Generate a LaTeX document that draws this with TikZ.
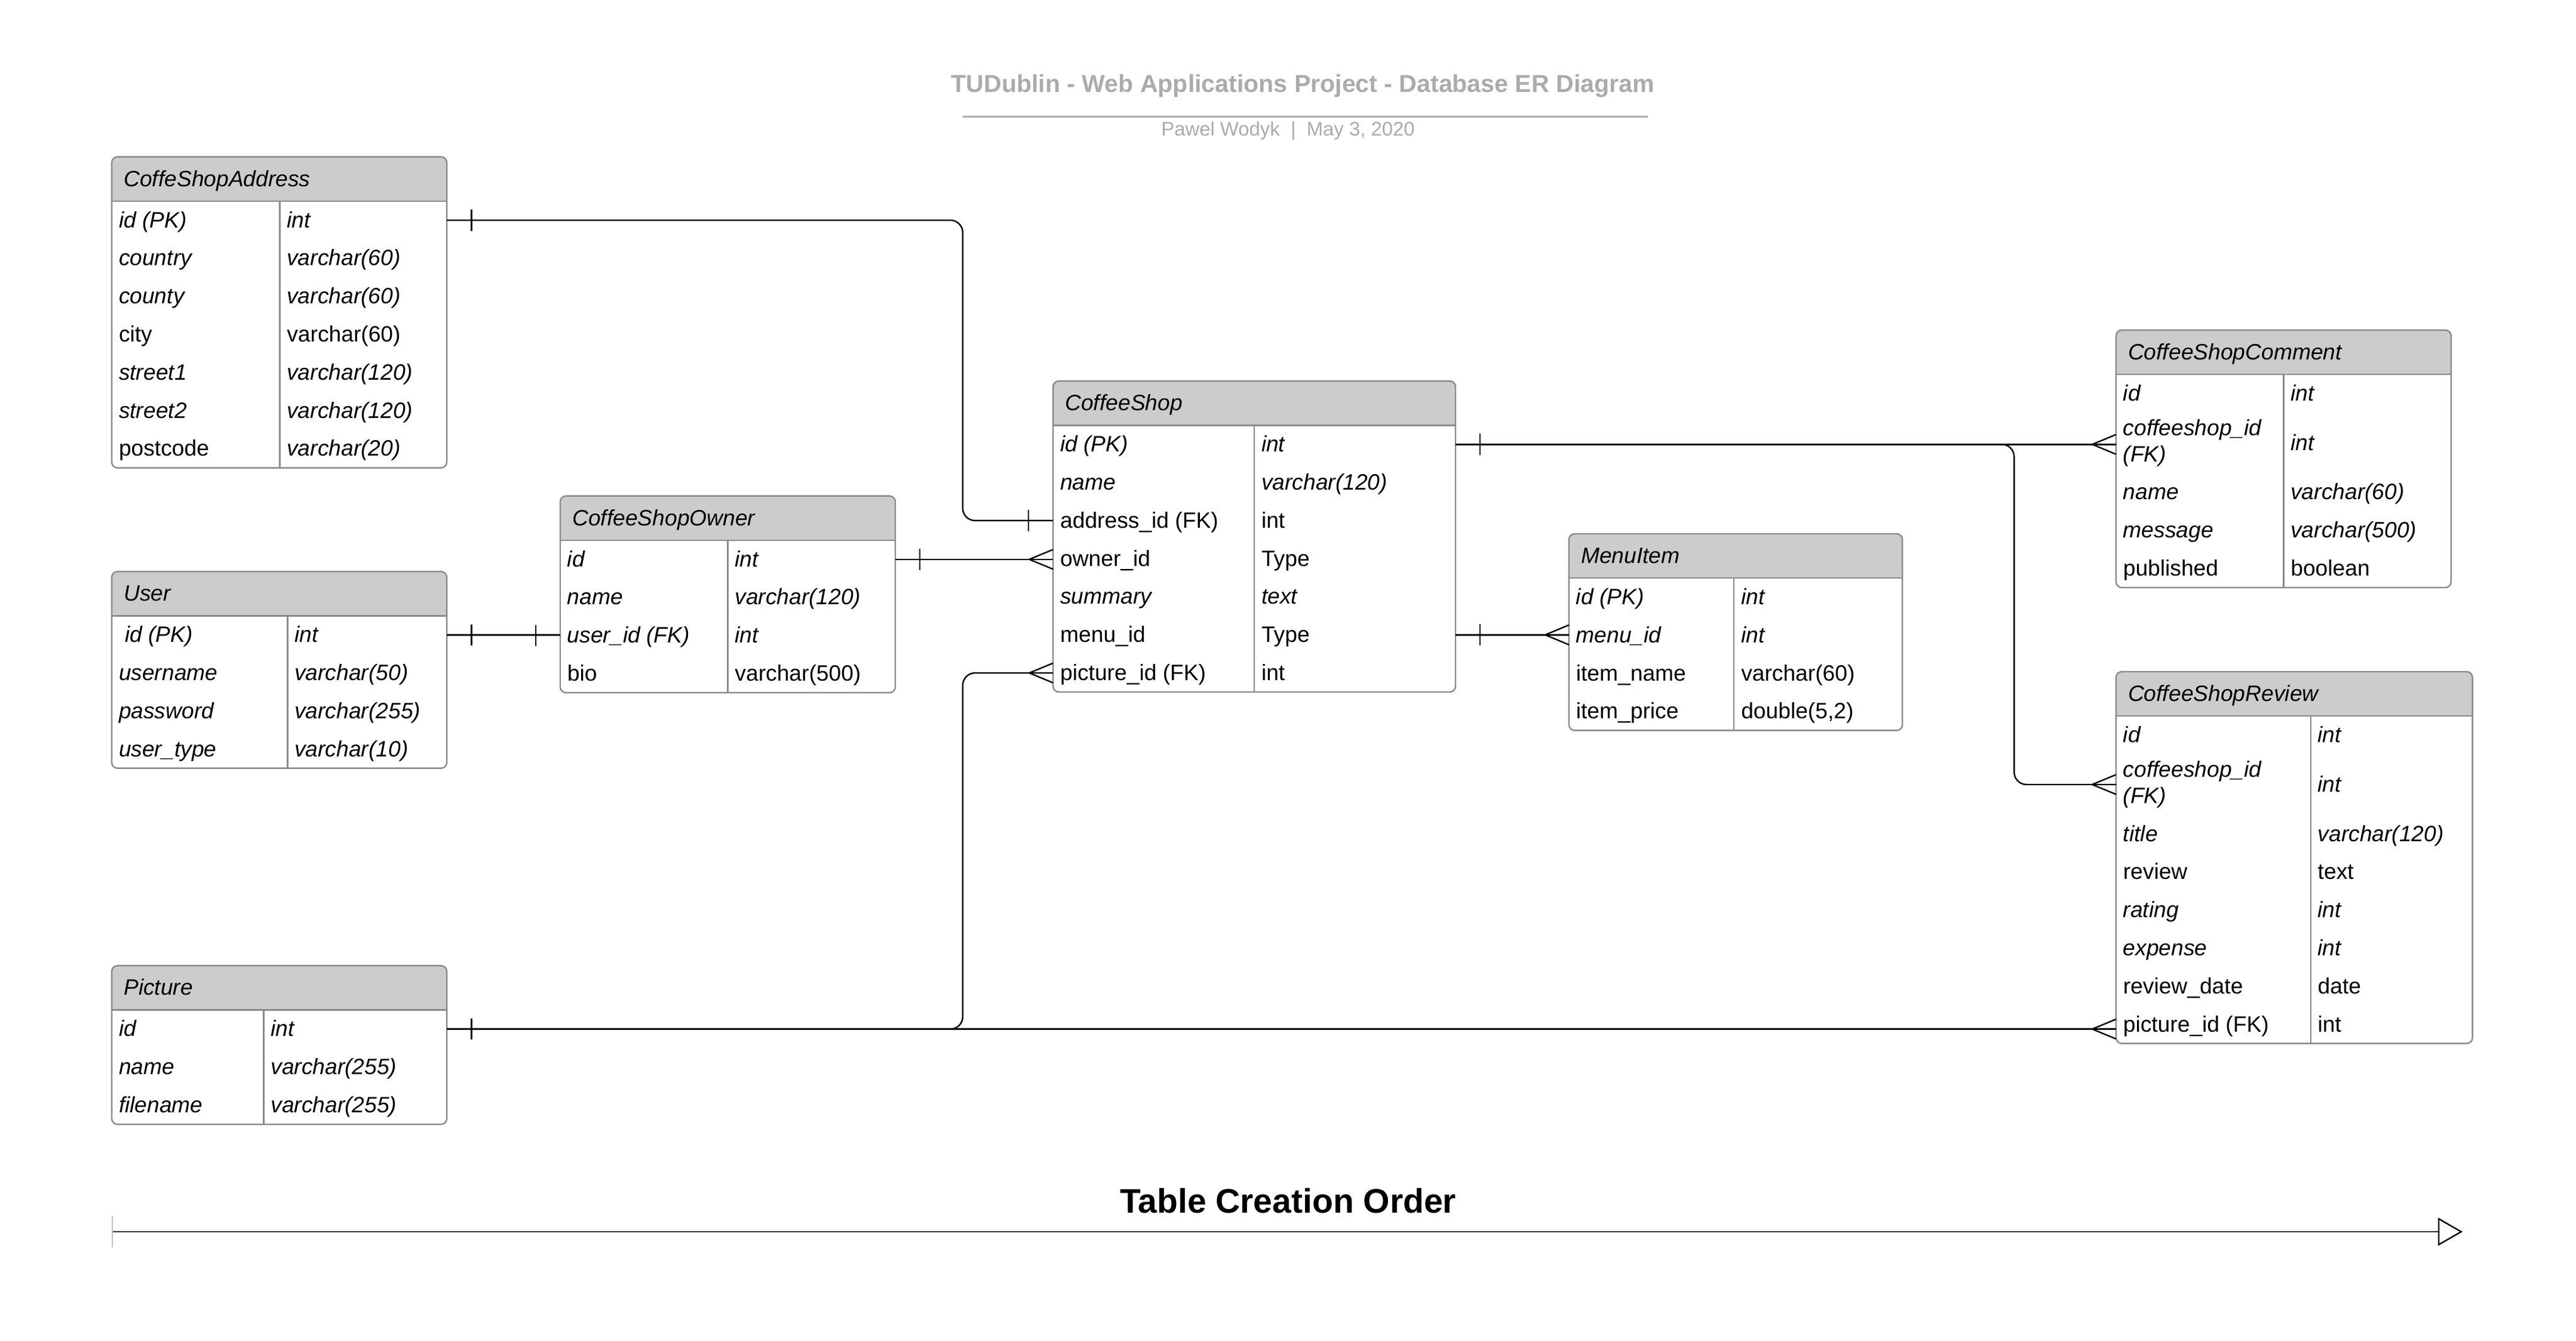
\documentclass[tikz,border=0pt]{standalone}
\usepackage{fontspec}
\setmainfont{Liberation Sans}
\usepackage{xcolor}
\usepackage{tikz}
\usetikzlibrary{arrows.meta}

\definecolor{hdrgray}{HTML}{CCCCCC}
\definecolor{framegray}{HTML}{8A8A8A}
\definecolor{titlegray}{HTML}{ABABAB}
\newcommand{\tabfont}{\fontsize{7.7}{9.2}\selectfont}

\begin{document}
\begin{tikzpicture}[
    x=0.02cm, y=-0.02cm,
    hdr/.style={rectangle, fill=hdrgray, rounded corners=2pt, minimum width=#1, minimum height=0.54cm, inner sep=0pt, outer sep=0pt, anchor=north west},
    row/.style={rectangle, minimum width=#1, minimum height=0.464cm, inner sep=0pt, outer sep=0pt, anchor=north west},
    cell/.style={anchor=west, inner sep=0pt, xshift=0.08cm, align=left},
    itl/.style={font=\tabfont\itshape, text height=0.72em, text depth=0.21em},
    upr/.style={font=\tabfont, text height=0.72em, text depth=0.21em},
    itt/.style={font=\tabfont\itshape, minimum height=0.74cm},
    tabframe/.style={draw=framegray, line width=0.5pt},
    conn/.style={draw, line width=0.5pt},
    elbow/.style={conn, rounded corners=0.15cm},
    onebar/.pic={\draw[line width=0.5pt] (0,-0.13cm) -- (0,0.13cm);},
    crowfoot/.pic={\draw[line width=0.5pt] (-0.29cm,0) -- (0,0.12cm) (-0.29cm,0) -- (0,-0.12cm);},
]
\path[use as bounding box, fill=white] (0,0) rectangle (1568,816.5);

% Title block
\node[font=\fontsize{8.5}{10}\selectfont\bfseries, text=titlegray, inner sep=0pt] (title) at (793,52.5) {TUDublin - Web Applications Project - Database ER Diagram};
\draw[titlegray, line width=0.7pt] (586,71) -- (1003,71);
\node[font=\fontsize{6.8}{8}\selectfont, text=titlegray, inner sep=0pt] (author) at (784,79.5) {Pawel Wodyk \ | \ May 3, 2020};

% CoffeShopAddress
\node[hdr=4.08cm] (addr-0) at (68,95.5) {};
\fill[hdrgray] ([yshift=0.1cm]addr-0.south west) rectangle (addr-0.south east);
\node[cell, itl, xshift=0.06cm] (addr-h) at (addr-0.west) {CoffeShopAddress};
\foreach \fld/\fs/\typ/\ts [count=\i] in {id (PK)/itl/int/itl, country/itl/varchar(60)/itl, county/itl/varchar(60)/itl, city/upr/varchar(60)/upr, street1/itl/varchar(120)/itl, street2/itl/varchar(120)/itl, postcode/upr/varchar(20)/itl}{
  \pgfmathtruncatemacro{\j}{\i-1}
  \node[row=4.08cm, \fs] (addr-\i) at (addr-\j.south west) {};
  \node[cell, \fs] (addr-\i-f) at (addr-\i.west) {\fld};
  \node[cell, \ts] (addr-\i-t) at ([xshift=2.046cm]addr-\i.west) {\typ};
}
\draw[tabframe, rounded corners=2pt] (addr-0.north west) rectangle (addr-7.south east);
\draw[tabframe] (addr-0.south west) -- (addr-0.south east) ([xshift=2.046cm]addr-1.north west) -- ([xshift=2.046cm]addr-7.south west);

% User
\node[hdr=4.08cm] (user-0) at (68,348) {};
\fill[hdrgray] ([yshift=0.1cm]user-0.south west) rectangle (user-0.south east);
\node[cell, itl, xshift=0.06cm] (user-h) at (user-0.west) {User};
\foreach \fld/\fs/\typ/\ts [count=\i] in {\ id (PK)/itl/int/itl, username/itl/varchar(50)/itl, password/itl/varchar(255)/itl, user\_type/itl/varchar(10)/itl}{
  \pgfmathtruncatemacro{\j}{\i-1}
  \node[row=4.08cm, \fs] (user-\i) at (user-\j.south west) {};
  \node[cell, \fs] (user-\i-f) at (user-\i.west) {\fld};
  \node[cell, \ts] (user-\i-t) at ([xshift=2.14cm]user-\i.west) {\typ};
}
\draw[tabframe, rounded corners=2pt] (user-0.north west) rectangle (user-4.south east);
\draw[tabframe] (user-0.south west) -- (user-0.south east) ([xshift=2.14cm]user-1.north west) -- ([xshift=2.14cm]user-4.south west);

% Picture
\node[hdr=4.08cm] (pic-0) at (68,588) {};
\fill[hdrgray] ([yshift=0.1cm]pic-0.south west) rectangle (pic-0.south east);
\node[cell, itl, xshift=0.06cm] (pic-h) at (pic-0.west) {Picture};
\foreach \fld/\fs/\typ/\ts [count=\i] in {id/itl/int/itl, name/itl/varchar(255)/itl, filename/itl/varchar(255)/itl}{
  \pgfmathtruncatemacro{\j}{\i-1}
  \node[row=4.08cm, \fs] (pic-\i) at (pic-\j.south west) {};
  \node[cell, \fs] (pic-\i-f) at (pic-\i.west) {\fld};
  \node[cell, \ts] (pic-\i-t) at ([xshift=1.85cm]pic-\i.west) {\typ};
}
\draw[tabframe, rounded corners=2pt] (pic-0.north west) rectangle (pic-3.south east);
\draw[tabframe] (pic-0.south west) -- (pic-0.south east) ([xshift=1.85cm]pic-1.north west) -- ([xshift=1.85cm]pic-3.south west);

% CoffeeShopOwner
\node[hdr=4.08cm] (own-0) at (341,302) {};
\fill[hdrgray] ([yshift=0.1cm]own-0.south west) rectangle (own-0.south east);
\node[cell, itl, xshift=0.06cm] (own-h) at (own-0.west) {CoffeeShopOwner};
\foreach \fld/\fs/\typ/\ts [count=\i] in {id/itl/int/itl, name/itl/varchar(120)/itl, user\_id (FK)/itl/int/itl, bio/upr/varchar(500)/upr}{
  \pgfmathtruncatemacro{\j}{\i-1}
  \node[row=4.08cm, \fs] (own-\i) at (own-\j.south west) {};
  \node[cell, \fs] (own-\i-f) at (own-\i.west) {\fld};
  \node[cell, \ts] (own-\i-t) at ([xshift=2.04cm]own-\i.west) {\typ};
}
\draw[tabframe, rounded corners=2pt] (own-0.north west) rectangle (own-4.south east);
\draw[tabframe] (own-0.south west) -- (own-0.south east) ([xshift=2.04cm]own-1.north west) -- ([xshift=2.04cm]own-4.south west);

% CoffeeShop
\node[hdr=4.9cm] (shop-0) at (641,232) {};
\fill[hdrgray] ([yshift=0.1cm]shop-0.south west) rectangle (shop-0.south east);
\node[cell, itl, xshift=0.06cm] (shop-h) at (shop-0.west) {CoffeeShop};
\foreach \fld/\fs/\typ/\ts [count=\i] in {id (PK)/itl/int/itl, name/itl/varchar(120)/itl, address\_id (FK)/upr/int/upr, owner\_id/upr/Type/upr, summary/itl/text/itl, menu\_id/upr/Type/upr, picture\_id (FK)/upr/int/upr}{
  \pgfmathtruncatemacro{\j}{\i-1}
  \node[row=4.9cm, \fs] (shop-\i) at (shop-\j.south west) {};
  \node[cell, \fs] (shop-\i-f) at (shop-\i.west) {\fld};
  \node[cell, \ts] (shop-\i-t) at ([xshift=2.45cm]shop-\i.west) {\typ};
}
\draw[tabframe, rounded corners=2pt] (shop-0.north west) rectangle (shop-7.south east);
\draw[tabframe] (shop-0.south west) -- (shop-0.south east) ([xshift=2.45cm]shop-1.north west) -- ([xshift=2.45cm]shop-7.south west);

% MenuItem
\node[hdr=4.06cm] (menu-0) at (955,325) {};
\fill[hdrgray] ([yshift=0.1cm]menu-0.south west) rectangle (menu-0.south east);
\node[cell, itl, xshift=0.06cm] (menu-h) at (menu-0.west) {MenuItem};
\foreach \fld/\fs/\typ/\ts [count=\i] in {id (PK)/itl/int/itl, menu\_id/itl/int/itl, item\_name/upr/varchar(60)/upr, item\_price/upr/{double(5,2)}/upr}{
  \pgfmathtruncatemacro{\j}{\i-1}
  \node[row=4.06cm, \fs] (menu-\i) at (menu-\j.south west) {};
  \node[cell, \fs] (menu-\i-f) at (menu-\i.west) {\fld};
  \node[cell, \ts] (menu-\i-t) at ([xshift=2.01cm]menu-\i.west) {\typ};
}
\draw[tabframe, rounded corners=2pt] (menu-0.north west) rectangle (menu-4.south east);
\draw[tabframe] (menu-0.south west) -- (menu-0.south east) ([xshift=2.01cm]menu-1.north west) -- ([xshift=2.01cm]menu-4.south west);

% CoffeeShopComment
\node[hdr=4.08cm] (com-0) at (1288,201) {};
\fill[hdrgray] ([yshift=0.1cm]com-0.south west) rectangle (com-0.south east);
\node[cell, itl, xshift=0.06cm] (com-h) at (com-0.west) {CoffeeShopComment};
\foreach \fld/\fs/\typ/\ts [count=\i] in {id/itl/int/itl, {coffeeshop\_id\\(FK)}/itt/int/itl, name/itl/varchar(60)/itl, message/itl/varchar(500)/itl, published/upr/boolean/upr}{
  \pgfmathtruncatemacro{\j}{\i-1}
  \node[row=4.08cm, \fs] (com-\i) at (com-\j.south west) {};
  \node[cell, \fs] (com-\i-f) at (com-\i.west) {\fld};
  \node[cell, \ts] (com-\i-t) at ([xshift=2.04cm]com-\i.west) {\typ};
}
\draw[tabframe, rounded corners=2pt] (com-0.north west) rectangle (com-5.south east);
\draw[tabframe] (com-0.south west) -- (com-0.south east) ([xshift=2.04cm]com-1.north west) -- ([xshift=2.04cm]com-5.south west);

% CoffeeShopReview
\node[hdr=4.34cm] (rev-0) at (1288,409) {};
\fill[hdrgray] ([yshift=0.1cm]rev-0.south west) rectangle (rev-0.south east);
\node[cell, itl, xshift=0.06cm] (rev-h) at (rev-0.west) {CoffeeShopReview};
\foreach \fld/\fs/\typ/\ts [count=\i] in {id/itl/int/itl, {coffeeshop\_id\\(FK)}/itt/int/itl, title/itl/varchar(120)/itl, review/upr/text/upr, rating/itl/int/itl, expense/itl/int/itl, review\_date/upr/date/upr, picture\_id (FK)/upr/int/upr}{
  \pgfmathtruncatemacro{\j}{\i-1}
  \node[row=4.34cm, \fs] (rev-\i) at (rev-\j.south west) {};
  \node[cell, \fs] (rev-\i-f) at (rev-\i.west) {\fld};
  \node[cell, \ts] (rev-\i-t) at ([xshift=2.37cm]rev-\i.west) {\typ};
}
\draw[tabframe, rounded corners=2pt] (rev-0.north west) rectangle (rev-8.south east);
\draw[tabframe] (rev-0.south west) -- (rev-0.south east) ([xshift=2.37cm]rev-1.north west) -- ([xshift=2.37cm]rev-8.south west);

% Relationship lines
\coordinate (lbus) at (586,0);
\coordinate (rbus) at (1226,0);

\draw[elbow] (addr-1.east) -| (lbus |- shop-3.west) -- (shop-3.west);
\pic at ([xshift=0.3cm]addr-1.east) {onebar};
\pic at ([xshift=-0.3cm]shop-3.west) {onebar};

\draw[conn] (own-1.east) -- (own-1.east -| shop-4.west);
\pic at ([xshift=0.3cm]own-1.east) {onebar};
\pic at (own-1.east -| shop-4.west) {crowfoot};

\draw[conn] (user-1.east) -- (user-1.east -| own-3.west);
\pic at ([xshift=0.3cm]user-1.east) {onebar};
\pic at ([xshift=-0.3cm]own-3.west) {onebar};

\draw[conn] (pic-1.east) -- (pic-1.east -| rev-8.west);
\draw[elbow] (pic-1.east) -| (lbus |- shop-7.west) -- (shop-7.west);
\pic at ([xshift=0.3cm]pic-1.east) {onebar};
\pic at (shop-7.west) {crowfoot};
\pic at (pic-1.east -| rev-8.west) {crowfoot};

\draw[conn] (shop-1.east) -- (shop-1.east -| com-2.west);
\draw[elbow] (shop-1.east) -| (rbus |- rev-2.west) -- (rev-2.west);
\pic at ([xshift=0.3cm]shop-1.east) {onebar};
\pic at (shop-1.east -| com-2.west) {crowfoot};
\pic at (rev-2.west) {crowfoot};

\draw[conn] (shop-6.east) -- (shop-6.east -| menu-2.west);
\pic at ([xshift=0.3cm]shop-6.east) {onebar};
\pic at (shop-6.east -| menu-2.west) {crowfoot};

% Table creation order
\node[font=\fontsize{11.8}{14}\selectfont\bfseries, inner sep=0pt] (order) at (784,731) {Table Creation Order};
\coordinate (order-start) at (68,750);
\coordinate (order-end) at (1499,750);
\draw[line width=0.5pt, draw=black!80, {Bar[width=0.38cm, color=black!25]}-{Triangle[open, length=0.3cm, width=0.34cm, color=black]}] (order-start) -- (order-end);

\end{tikzpicture}
\end{document}
